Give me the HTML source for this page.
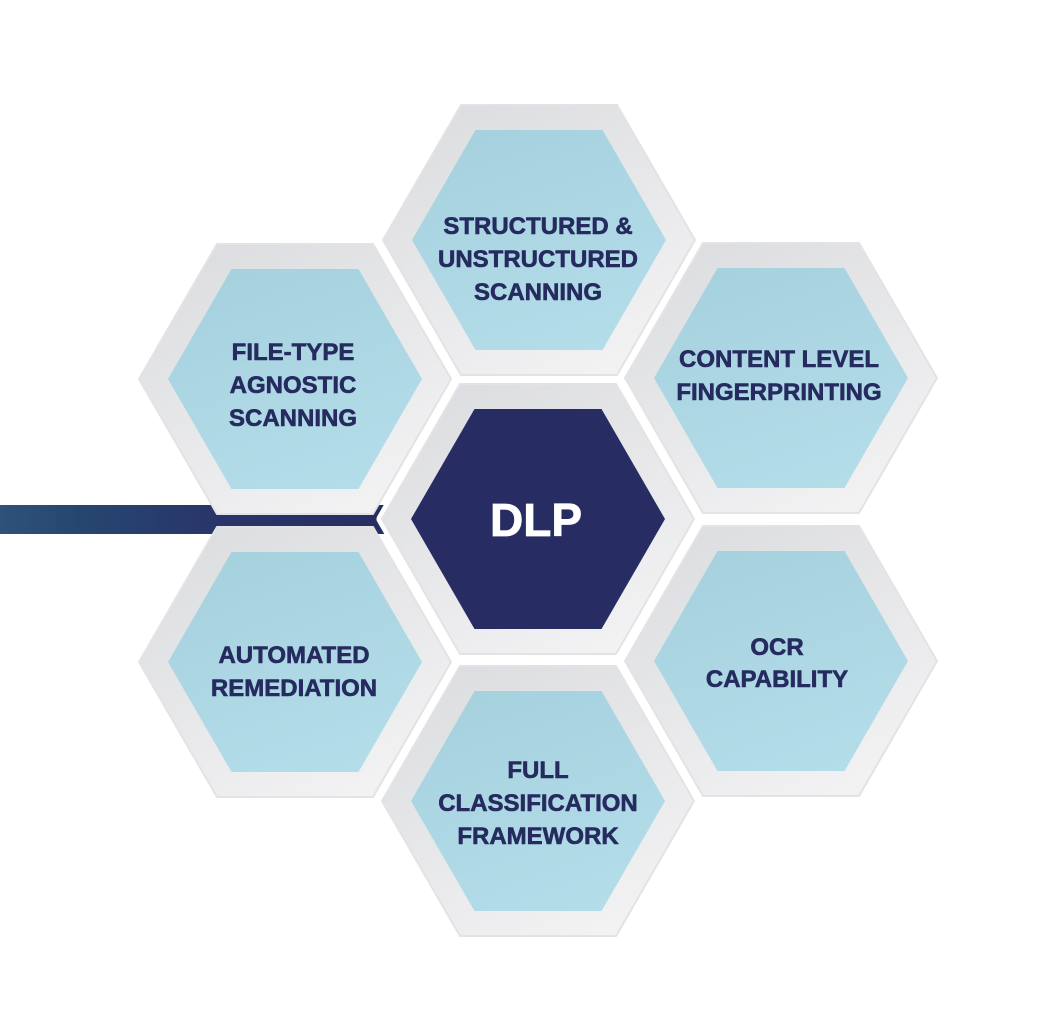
<!DOCTYPE html>
<html>
<head>
<meta charset="utf-8">
<style>
  html,body{margin:0;padding:0;background:#ffffff;}
  body{width:1060px;height:1012px;overflow:hidden;}
  svg{display:block;}
  text{font-family:"Liberation Sans",sans-serif;font-weight:bold;text-anchor:middle;}
</style>
</head>
<body>
<svg width="1060" height="1012" viewBox="0 0 1060 1012" xmlns="http://www.w3.org/2000/svg">
  <defs>
    <linearGradient id="bar" x1="0" y1="0" x2="1" y2="0">
      <stop offset="0" stop-color="#2e527b"/>
      <stop offset="0.2" stop-color="#26466f"/>
      <stop offset="0.55" stop-color="#29356a"/>
      <stop offset="1" stop-color="#272d63"/>
    </linearGradient>
    <linearGradient id="ring" x1="0.2" y1="0" x2="0.8" y2="1">
      <stop offset="0" stop-color="#dcdde0"/>
      <stop offset="1" stop-color="#f3f3f4"/>
    </linearGradient>
    <linearGradient id="blue" x1="0.3" y1="0" x2="0.7" y2="1">
      <stop offset="0" stop-color="#a6d1de"/>
      <stop offset="1" stop-color="#b3dde9"/>
    </linearGradient>
  </defs>

  <!-- left bar -->
  <rect x="0" y="505" width="400" height="29" fill="url(#bar)"/>

  <!-- Left top -->
  <polygon points="139,379 217,244 373,244 451,379 373,514 217,514" fill="url(#ring)" stroke="#e3e3e5" stroke-width="2" stroke-linejoin="round"/>
  <polygon points="168,379 231.5,269 358.5,269 422,379 358.5,489 231.5,489" fill="url(#blue)"/>

  <!-- Left bottom -->
  <polygon points="139,662 217,527 373,527 451,662 373,797 217,797" fill="url(#ring)" stroke="#e3e3e5" stroke-width="2" stroke-linejoin="round"/>
  <polygon points="168,662 231.5,552 358.5,552 422,662 358.5,772 231.5,772" fill="url(#blue)"/>

  <!-- Top -->
  <polygon points="383,240 461,105 617,105 695,240 617,375 461,375" fill="url(#ring)" stroke="#e3e3e5" stroke-width="2" stroke-linejoin="round"/>
  <polygon points="412,240 475.5,130 602.5,130 666,240 602.5,350 475.5,350" fill="url(#blue)"/>

  <!-- Right top -->
  <polygon points="625,378 703,243 859,243 937,378 859,513 703,513" fill="url(#ring)" stroke="#e3e3e5" stroke-width="2" stroke-linejoin="round"/>
  <polygon points="654,378 717.5,268 844.5,268 908,378 844.5,488 717.5,488" fill="url(#blue)"/>

  <!-- Right bottom -->
  <polygon points="625,661 703,526 859,526 937,661 859,796 703,796" fill="url(#ring)" stroke="#e3e3e5" stroke-width="2" stroke-linejoin="round"/>
  <polygon points="654,661 717.5,551 844.5,551 908,661 844.5,771 717.5,771" fill="url(#blue)"/>

  <!-- Bottom -->
  <polygon points="382,801 460,666 616,666 694,801 616,936 460,936" fill="url(#ring)" stroke="#e3e3e5" stroke-width="2" stroke-linejoin="round"/>
  <polygon points="411,801 474.5,691 601.5,691 665,801 601.5,911 474.5,911" fill="url(#blue)"/>

  <!-- Center -->
  <polygon points="382,519 460,384 616,384 694,519 616,654 460,654" fill="#ffffff" stroke="#ffffff" stroke-width="11" stroke-linejoin="round"/>
  <polygon points="382,519 460,384 616,384 694,519 616,654 460,654" fill="url(#ring)" stroke="#e3e3e5" stroke-width="2" stroke-linejoin="round"/>
  <polygon points="411,519 474.5,409 601.5,409 665,519 601.5,629 474.5,629" fill="#272c62"/>

  <!-- Labels -->
  <g fill="#262b5f" stroke="#262b5f" stroke-width="0.6" font-size="24">
    <text x="538" y="234">STRUCTURED &amp;</text>
    <text x="538" y="267">UNSTRUCTURED</text>
    <text x="538" y="300">SCANNING</text>

    <text x="293" y="360">FILE-TYPE</text>
    <text x="293" y="393">AGNOSTIC</text>
    <text x="293" y="426">SCANNING</text>

    <text x="779" y="367">CONTENT LEVEL</text>
    <text x="779" y="400">FINGERPRINTING</text>

    <text x="294" y="663">AUTOMATED</text>
    <text x="294" y="696">REMEDIATION</text>

    <text x="777" y="655">OCR</text>
    <text x="777" y="687">CAPABILITY</text>

    <text x="538" y="778">FULL</text>
    <text x="538" y="811">CLASSIFICATION</text>
    <text x="538" y="844">FRAMEWORK</text>
  </g>
  <text x="536" y="536" font-size="46" fill="#ffffff" stroke="#ffffff" stroke-width="0.8">DLP</text>
</svg>
</body>
</html>
